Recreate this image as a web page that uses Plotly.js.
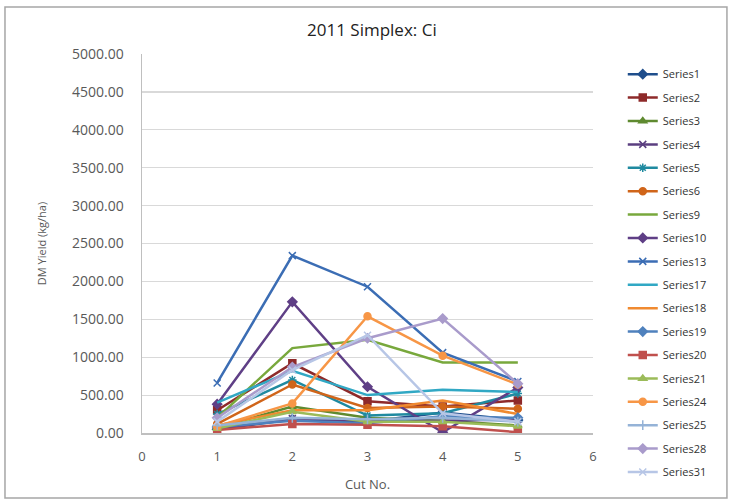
<!DOCTYPE html>
<html>
<head>
<meta charset="utf-8">
<script src="https://cdn.plot.ly/plotly-3.0.1.min.js"></script>
<style>
html,body{margin:0;padding:0;background:#fff;}
#chart{width:732px;height:504px;}
</style>
</head>
<body>
<div id="chart"></div>
<script>
var cuts = [1, 2, 3, 4, 5];
var seriesNames = ["Series1","Series2","Series3","Series4","Series5","Series6","Series9","Series10","Series13","Series17","Series18","Series19","Series20","Series21","Series24","Series25","Series28","Series31"];
var s1  = [50, 180, 150, 270, 170];
var s2  = [300, 920, 420, 350, 430];
var s3  = [70, 350, 200, 160, 100];
var s4  = [50, 190, 160, 160, 180];
var s5  = [250, 700, 230, 260, 520];
var s6  = [120, 640, 330, 350, 320];
var s9  = [200, 1120, 1230, 930, 930];
var s10 = [380, 1730, 610, 10, 600];
var s13 = [660, 2340, 1930, 1060, 680];
var s17 = [400, 820, 500, 570, 540];
var s18 = [100, 300, 300, 430, 250];
var s19 = [80, 160, 130, 220, 200];
var s20 = [40, 120, 110, 90, 10];
var s21 = [60, 280, 150, 150, 90];
var s24 = [90, 390, 1540, 1020, 640];
var s25 = [100, 200, 180, 200, 150];
var s28 = [200, 870, 1250, 1510, 650];
var s31 = [150, 830, 1290, 260, 150];
var seriesValues = [s1,s2,s3,s4,s5,s6,s9,s10,s13,s17,s18,s19,s20,s21,s24,s25,s28,s31];
var yTickVals = [0,500,1000,1500,2000,2500,3000,3500,4000,4500,5000];
var xTickVals = [0,1,2,3,4,5,6];

var colors  = ["#1F4E8C","#8E2A2A","#5F8A30","#5B3F80","#1F8AA0","#D0651A","#78A83C","#5F3F86","#3B6DB4","#31A8C4","#F08A30","#4F81BD","#C0504D","#9BBB59","#F79646","#95B3D7","#A99BCB","#B7C6E6"];
var symbols = ["diamond","square","triangle-up","x-thin-open","asterisk-open","circle",null,"diamond","x-thin-open",null,null,"diamond","square","triangle-up","circle","cross-thin-open","diamond","x-thin-open"];

var traces = seriesNames.map(function(n, i){
  var t = {
    x: cuts, y: seriesValues[i], name: n, type: "scatter",
    legendgroup: n,
    line: {color: colors[i], width: 2.5},
  };
  if (symbols[i]) {
    t.mode = "lines+markers";
    t.marker = {symbol: symbols[i], size: 7, color: colors[i], line: {color: colors[i], width: 1.5}};
  } else {
    t.mode = "lines";
  }
  return t;
});

var layout = {
  width: 732, height: 504,
  margin: {l: 142, r: 139, t: 54, b: 71},
  paper_bgcolor: "#fff", plot_bgcolor: "#fff",
  font: {family: "Open Sans, Liberation Sans, sans-serif", size: 11, color: "#595959"},
  title: {text: "2011 Simplex: Ci", x: 0.508, xref: "container", y: 0.94, yref: "container", yanchor: "middle", font: {size: 17, color: "#222"}},
  xaxis: {
    range: [0, 6], tickvals: xTickVals, showgrid: false, zeroline: false,
    showline: true, linecolor: "#BFBFBF", linewidth: 1.5,
    ticks: "outside", ticklen: 11, tickcolor: "rgba(0,0,0,0)",
    tickfont: {size: 13, color: "#595959"},
    title: {text: "Cut No.", standoff: 16, font: {size: 13, color: "#595959"}}
  },
  yaxis: {
    range: [0, 5000], tickvals: yTickVals, tickformat: ".2f",
    showgrid: true, gridcolor: "#D9D9D9", gridwidth: 1.2, zeroline: false,
    showline: true, linecolor: "#BFBFBF", linewidth: 1.5,
    ticks: "outside", ticklen: 14, tickcolor: "rgba(0,0,0,0)",
    tickfont: {size: 14, color: "#595959"},
    title: {text: "DM Yield (kg/ha)", standoff: 23, font: {size: 11, color: "#595959"}}
  },
  legend: {
    x: 1.066, xanchor: "left", y: 0.985, yanchor: "top",
    traceorder: "grouped", tracegroupgap: 4.4, maxheight: 504,
    font: {size: 11, color: "#333"}, bgcolor: "rgba(0,0,0,0)"
  },
  shapes: [{
    type: "rect", xref: "paper", yref: "paper",
    x0: -0.3038, x1: 1.297, y0: -0.1715, y1: 1.124,
    line: {color: "#A6A6A6", width: 1.5}
  }],
  showlegend: true
};

Plotly.newPlot("chart", traces, layout, {displayModeBar: false, staticPlot: true});
</script>
</body>
</html>
